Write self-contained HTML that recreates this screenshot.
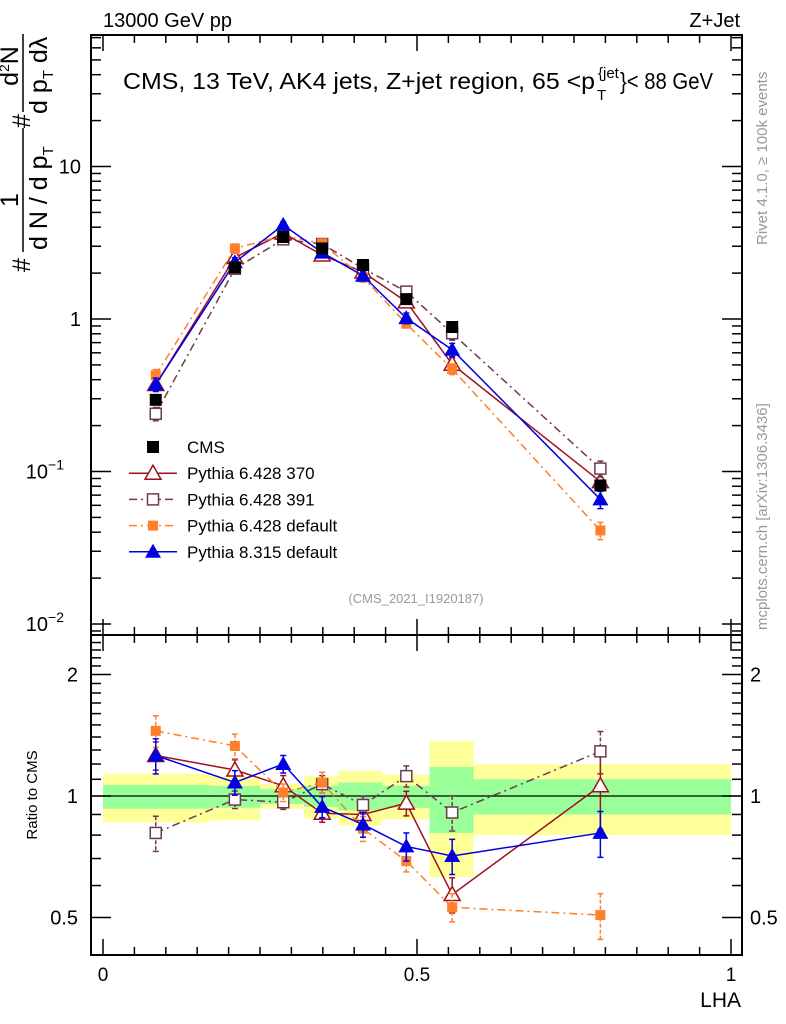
<!DOCTYPE html>
<html><head><meta charset="utf-8"><style>
body{margin:0;background:#fff}
svg{display:block;font-family:"Liberation Sans",sans-serif}
</style></head><body>
<svg id="c" width="786" height="1024" viewBox="0 0 786 1024" xmlns="http://www.w3.org/2000/svg">
<rect x="0" y="0" width="786" height="1024" fill="#fff"/>
<g id="bands"></g>
<g id="grid"></g>
<g id="series"></g>
<g id="axes"></g>
<g id="legend"></g>
<text x="103" y="27" font-size="20">13000 GeV pp</text>
<text x="740" y="27" font-size="20" text-anchor="end">Z+Jet</text>
<text x="123" y="89" font-size="23" textLength="472" lengthAdjust="spacingAndGlyphs">CMS, 13 TeV, AK4 jets, Z+jet region, 65 &lt;p</text>
<text x="598" y="78" font-size="15">{jet</text>
<text x="597" y="100" font-size="15">T</text>
<text x="620" y="89" font-size="23" textLength="93" lengthAdjust="spacingAndGlyphs">}&lt; 88 GeV</text>
<text x="416" y="603" font-size="13" fill="#999" text-anchor="middle">(CMS_2021_I1920187)</text>
<text transform="translate(767,245) rotate(-90)" font-size="15" fill="#999">Rivet 4.1.0, ≥ 100k events</text>
<text transform="translate(767,630) rotate(-90)" font-size="15" fill="#999">mcplots.cern.ch [arXiv:1306.3436]</text>
<g font-size="25">
<text transform="translate(30,272) rotate(-90)">#</text>
<text transform="translate(18,200) rotate(-90)" text-anchor="middle">1</text>
<line x1="23" y1="252" x2="23" y2="128" stroke="#000" stroke-width="1.5"/>
<text transform="translate(47,250) rotate(-90)">d N / d p<tspan font-size="15" dy="6">T</tspan></text>
<text transform="translate(30,128) rotate(-90)">#</text>
<text transform="translate(18,66) rotate(-90)" text-anchor="middle">d<tspan font-size="14" dy="-9">2</tspan><tspan dy="9">N</tspan></text>
<line x1="23" y1="112" x2="23" y2="34" stroke="#000" stroke-width="1.5"/>
<text transform="translate(47,114) rotate(-90)">d p<tspan font-size="15" dy="6">T</tspan><tspan dy="-6"> dλ</tspan></text>
</g>
<text transform="translate(37,795) rotate(-90)" font-size="15" text-anchor="middle">Ratio to CMS</text>
<text x="741" y="1007" font-size="21" text-anchor="end">LHA</text>
</svg>
<script>
const binEdges=[0,0.17,0.25,0.32,0.375,0.445,0.52,0.59,1.0];
const xPts=[0.084,0.21,0.287,0.349,0.414,0.483,0.556,0.792];
const cms=[0.295,2.18,3.45,2.9,2.26,1.35,0.886,0.081];
const cmsErr=[0.02,0.08,0.1,0.08,0.06,0.05,0.04,0.006];
const bandStatHi=[1.065,1.06,1.04,1.06,1.08,1.06,1.18,1.1];
const bandStatLo=[0.93,0.935,0.955,0.94,0.92,0.935,0.81,0.9];
const bandTotHi=[1.135,1.12,1.07,1.12,1.155,1.13,1.37,1.2];
const bandTotLo=[0.86,0.87,0.93,0.88,0.846,0.875,0.63,0.8];
const r370=[1.26,1.16,1.06,0.906,0.90,0.96,0.57,1.06];
const r391=[0.81,0.98,0.965,1.07,0.95,1.12,0.91,1.29];
const r6def=[1.45,1.33,1.02,1.08,0.83,0.69,0.53,0.507];
const r8def=[1.26,1.08,1.2,0.94,0.85,0.75,0.71,0.81];
const e370=[0.08,0.06,0.06,0.05,0.05,0.07,0.1,0.22];
const e391=[0.1,0.05,0.04,0.05,0.05,0.06,0.1,0.12];
const e6def=[0.09,0.07,0.05,0.06,0.07,0.06,0.08,0.13];
const e8def=[0.1,0.07,0.05,0.06,0.07,0.08,0.1,0.13];
const mainTicks=[10,1,0.1,0.01];
const mainTickLabels=["10","1","10","10"];
const mainTickExp=["","","−1","−2"];
const ratioTicks=[2,1,0.5];
const ratioTickLabels=["2","1","0.5"];
const xTicks=[0,0.5,1];
const xTickLabels=["0","0.5","1"];

const NS="http://www.w3.org/2000/svg";
const L=91,R=742,MT=35,MB=635,RB=955;
const X=v=>103+v*628;
const YM=v=>319-152.5*Math.log10(v);
const YR=v=>796-121.5*Math.log2(v);
function mk(p,t,a){const e=document.createElementNS(NS,t);for(const k in a)e.setAttribute(k,a[k]);p.appendChild(e);return e;}
const G=id=>document.getElementById(id);
const bands=G('bands'),ser=G('series'),ax=G('axes'),leg=G('legend');

for(let i=0;i<8;i++){
 let x0=X(binEdges[i]),x1=X(binEdges[i+1]);
 let y=mk(bands,'rect',{x:x0,y:YR(bandTotHi[i]),width:x1-x0,height:YR(bandTotLo[i])-YR(bandTotHi[i]),fill:'#ffff99'});
 
 
 let g=mk(bands,'rect',{x:x0,y:YR(bandStatHi[i]),width:x1-x0,height:YR(bandStatLo[i])-YR(bandStatHi[i]),fill:'#99ff99'});
 
 
}
mk(bands,'line',{x1:L,x2:R,y1:YR(1),y2:YR(1),stroke:'#000','stroke-width':1.2});

mk(ax,'rect',{x:L,y:MT,width:R-L,height:MB-MT,fill:'none',stroke:'#000','stroke-width':2});
mk(ax,'rect',{x:L,y:MB,width:R-L,height:RB-MB,fill:'none',stroke:'#000','stroke-width':2});
for(let k=0;k<=20;k++){const v=k*0.05,x=X(v),big=k%10==0,len=big?16:8;
 for(const yb of [MB,RB]) mk(ax,'line',{x1:x,x2:x,y1:yb,y2:yb-len,stroke:'#000','stroke-width':1.5});
 mk(ax,'line',{x1:x,x2:x,y1:MT,y2:MT+len,stroke:'#000','stroke-width':1.5});
 mk(ax,'line',{x1:x,x2:x,y1:MB,y2:MB+len,stroke:'#000','stroke-width':1.5});}
xTicks.forEach((v,i)=>{const t=mk(ax,'text',{x:X(v),y:981,'font-size':19,'text-anchor':'middle'});t.textContent=xTickLabels[i];
 
 });
for(let d=-3;d<=2;d++)for(let m=1;m<=9;m++){const v=m*Math.pow(10,d),y=YM(v);if(y<MT||y>MB)continue;const len=m==1?20:10;
 mk(ax,'line',{x1:L,x2:L+len,y1:y,y2:y,stroke:'#000','stroke-width':1.5});mk(ax,'line',{x1:R,x2:R-len,y1:y,y2:y,stroke:'#000','stroke-width':1.5});}
mainTicks.forEach((v,i)=>{const t=mk(ax,'text',{x:mainTickExp[i]?64:81,y:YM(v)+7,'font-size':20,'text-anchor':'end'});t.textContent=mainTickLabels[i];
 if(mainTickExp[i]){const s=mk(t,'tspan',{'font-size':14,dy:-9});s.textContent=mainTickExp[i];}
 
 });
for(let v=0.4;v<=2.5;v+=0.1){const vv=Math.round(v*10)/10,y=YR(vv);if(y<MB||y>RB)continue;const big=[0.5,1,2].includes(vv),len=big?20:10;
 mk(ax,'line',{x1:L,x2:L+len,y1:y,y2:y,stroke:'#000','stroke-width':1.5});mk(ax,'line',{x1:R,x2:R-len,y1:y,y2:y,stroke:'#000','stroke-width':1.5});}
ratioTicks.forEach((v,i)=>{for(const [x,a] of [[78,'end'],[750,'start']]){const t=mk(ax,'text',{x:x,y:YR(v)+7,'font-size':20,'text-anchor':a});t.textContent=ratioTickLabels[i];
 
 }});

function marker(p,type,x,y,col){
 if(type=='sq') return mk(p,'rect',{x:x-6,y:y-6,width:12,height:12,fill:col});
 if(type=='osq') return mk(p,'rect',{x:x-5.5,y:y-5.5,width:11,height:11,fill:'#fff',stroke:col,'stroke-width':1.5});
 if(type=='ssq') return mk(p,'rect',{x:x-5,y:y-5,width:10,height:10,fill:col});
 if(type=='otri') return mk(p,'polygon',{points:`${x},${y-8} ${x-8},${y+6} ${x+8},${y+6}`,fill:'#fff',stroke:col,'stroke-width':1.5});
 return mk(p,'polygon',{points:`${x},${y-8} ${x-8},${y+6} ${x+8},${y+6}`,fill:col});
}
const mc=[
 {name:'Pythia 6.428 370',r:r370,e:e370,col:'#a01020',dash:'',m:'otri',id:'pythia6-370'},
 {name:'Pythia 6.428 391',r:r391,e:e391,col:'#6e3a50',dash:'8,4,2,4',m:'osq',id:'pythia6-391'},
 {name:'Pythia 6.428 default',r:r6def,e:e6def,col:'#ff7f2a',dash:'8,4,2,4',m:'ssq',id:'pythia6-default'},
 {name:'Pythia 8.315 default',r:r8def,e:e8def,col:'#0000e0',dash:'',m:'tri',id:'pythia8-default'}];
mc.forEach(s=>{
 for(const panel of ['main','ratio']){
  const g=mk(ser,'g',{});
  
  
  const val=i=>panel=='main'?cms[i]*s.r[i]:s.r[i];
  const Y=panel=='main'?YM:YR;
  const pts=xPts.map((x,i)=>X(x)+','+Y(val(i))).join(' ');
  mk(g,'polyline',{points:pts,fill:'none',stroke:s.col,'stroke-width':1.5,'stroke-dasharray':s.dash});
  xPts.forEach((x,i)=>{const v=val(i),y1=Y(v*(1+s.e[i])),y2=Y(v*(1-s.e[i]));const px=X(x);
   mk(g,'line',{x1:px,x2:px,y1:y1,y2:y2,stroke:s.col,'stroke-width':1.5,'stroke-dasharray':s.dash?'4,2':''});
   mk(g,'line',{x1:px-3,x2:px+3,y1:y1,y2:y1,stroke:s.col,'stroke-width':1.5});
   mk(g,'line',{x1:px-3,x2:px+3,y1:y2,y2:y2,stroke:s.col,'stroke-width':1.5});
   const mm=marker(g,s.m,px,Y(v),s.col);
   
   });
 }});
const cg=mk(ser,'g',{});


xPts.forEach((x,i)=>{const px=X(x);
 mk(cg,'line',{x1:px,x2:px,y1:YM(cms[i]+cmsErr[i]),y2:YM(cms[i]-cmsErr[i]),stroke:'#000','stroke-width':1.5});
 const m=marker(cg,'sq',px,YM(cms[i]),'#000');
 
 });
const lrows=[{name:'CMS',col:'#000',m:'sq',dash:null}].concat(mc);
lrows.forEach((s,i)=>{const y=447+i*26.2;const g=mk(leg,'g',{});
 
 
 if(s.dash!==null) mk(g,'line',{x1:129,x2:177,y1:y,y2:y,stroke:s.col,'stroke-width':1.5,'stroke-dasharray':s.dash});
 marker(g,s.m,153,y,s.col);
 const t=mk(g,'text',{x:187,y:y+6,'font-size':17});t.textContent=s.name;});
</script>
</body></html>
